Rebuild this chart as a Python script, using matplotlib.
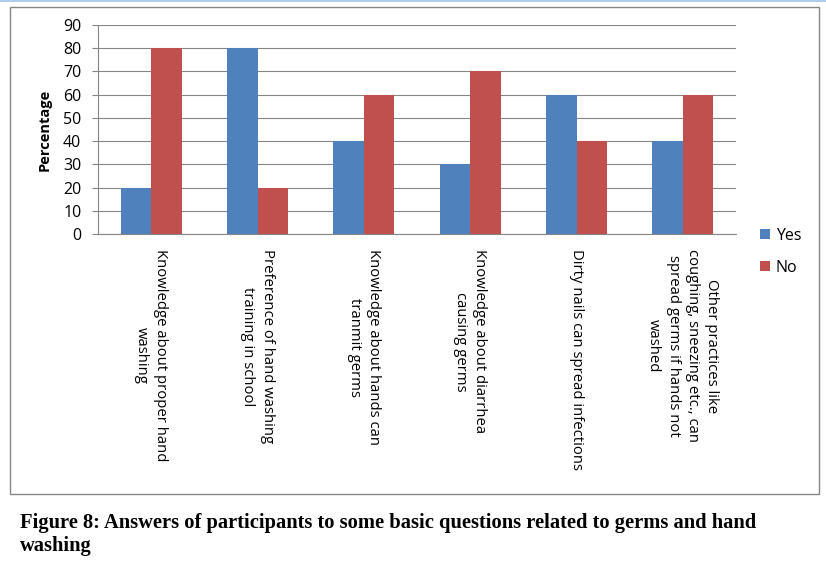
import matplotlib
matplotlib.use("Agg")
import matplotlib.pyplot as plt
import numpy as np
from matplotlib.patches import Rectangle
from matplotlib.lines import Line2D

categories = [
    "Knowledge about proper hand\nwashing",
    "Preference of hand washing\ntraining in school",
    "Knowledge about hands can\ntranmit germs",
    "Knowledge about diarrhea\ncausing germs",
    "Dirty nails can spread infections",
    "Other practices like\ncoughing, sneezing etc., can\nspread germs if hands not\nwashed",
]
yes_vals = [20, 80, 40, 30, 60, 40]
no_vals = [80, 20, 60, 70, 40, 60]
series_names = ["Yes", "No"]
y_ticks = [0, 10, 20, 30, 40, 50, 60, 70, 80, 90]
caption = ("Figure 8: Answers of participants to some basic questions related to germs and hand\n"
           "washing")

blue = "#4F81BD"
red = "#C0504D"
grey = "#868686"

W, H = 826, 564
fig = plt.figure(figsize=(W / 100, H / 100), dpi=100)

# outer chart border
fig.add_artist(Rectangle((10 / W, 1 - 494 / H), (819 - 10) / W, (494 - 7) / H,
                         transform=fig.transFigure, fill=False, edgecolor=grey, lw=1.0))
fig.add_artist(Line2D([0, 1], [1 - 0.5 / H, 1 - 0.5 / H], transform=fig.transFigure,
                      color="#9DC3E6", lw=1.2))

ax = fig.add_axes([98 / W, 1 - 234 / H, (736 - 98) / W, (234 - 25) / H])

x = np.arange(len(categories))
bw = 1 / 3.5
ax.bar(x - bw / 2, yes_vals, bw, color=blue, label=series_names[0], zorder=3)
ax.bar(x + bw / 2, no_vals, bw, color=red, label=series_names[1], zorder=3)

ax.set_xlim(-0.5, len(categories) - 0.5)
ax.set_ylim(0, 90)
ax.set_yticks(y_ticks)
ax.yaxis.grid(True, color=grey, lw=0.8, zorder=0)
ax.tick_params(axis="y", length=4, color=grey, labelsize=11.5, pad=8)
ax.set_xticks(x)
ax.set_xticklabels(categories, rotation=-90, va="top", ha="center",
                   multialignment="center", fontsize=10.7, linespacing=1.4,
                   family="Open Sans")
ax.tick_params(axis="x", length=0, pad=11)
for t in ax.get_yticklabels():
    t.set_family("Open Sans")

for s in ["top", "right"]:
    ax.spines[s].set_visible(False)
for s in ["left", "bottom"]:
    ax.spines[s].set_color(grey)
    ax.spines[s].set_linewidth(0.8)

ax.set_ylabel("Percentage", fontsize=10.5, fontweight="bold", family="Open Sans", labelpad=8)

leg = ax.legend(loc="center left", bbox_to_anchor=(1.015, -0.085), frameon=False,
                handlelength=0.65, handleheight=0.65, handletextpad=0.35,
                labelspacing=1.0, prop={"family": "Open Sans", "size": 11.5})

fig.text(20 / W, 1 - 513 / H, caption, ha="left", va="top", family="Liberation Serif",
         fontweight="bold", fontsize=14.8, linespacing=1.2)

fig.savefig("out.png", dpi=100)
